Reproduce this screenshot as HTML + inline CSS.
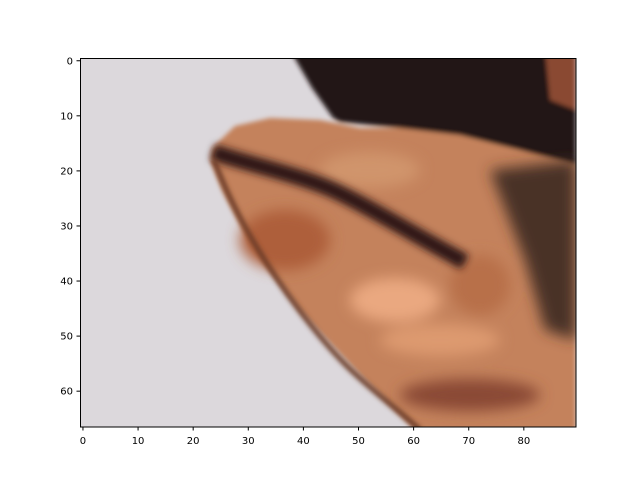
<!DOCTYPE html>
<html><head><meta charset="utf-8"><style>
html,body{margin:0;padding:0;background:#fff;width:640px;height:480px;overflow:hidden}
svg text{font-family:"DejaVu Sans","Liberation Sans",sans-serif;font-size:10px;fill:#000}
</style></head><body>
<svg width="640" height="480">
<defs>
<clipPath id="c"><rect x="80" y="58" width="496" height="369"/></clipPath>
<filter id="b" x="-30%" y="-30%" width="160%" height="160%"><feGaussianBlur stdDeviation="7"/></filter>
<filter id="b2" x="-20%" y="-20%" width="140%" height="140%"><feGaussianBlur stdDeviation="2.5"/></filter>
<filter id="b3" x="-20%" y="-20%" width="140%" height="140%"><feGaussianBlur stdDeviation="4"/></filter>
</defs>
<g clip-path="url(#c)">
<rect x="80" y="58" width="496" height="369" fill="#dcd8dc"/>
<g filter="url(#b2)">
<polygon fill="#c4825c" points="212,148 235,126 270,118 320,120 360,128 576,128 576,440 425,440 367,382 300,311 250,245 222,190 210,160"/>
<polygon fill="#221614" points="290,50 576,50 576,165 520,150 460,135 400,128 340,122 333,118 312,88"/>
<polygon fill="#8a4a30" points="545,50 576,50 576,110 550,100"/>
</g>
<g filter="url(#b)">
<polygon fill="#4a3026" points="490,170 576,160 576,340 545,330 525,260"/>
<ellipse cx="285" cy="240" rx="45" ry="30" fill="#ae5e3a"/>
<ellipse cx="370" cy="170" rx="50" ry="18" fill="#d0946c"/>
<ellipse cx="395" cy="300" rx="45" ry="22" fill="#eaa880"/>
<ellipse cx="440" cy="340" rx="60" ry="16" fill="#dd9a70"/>
<ellipse cx="470" cy="395" rx="70" ry="16" fill="#8a4a34"/>
<ellipse cx="480" cy="285" rx="30" ry="30" fill="#b87048"/>
</g>
<path d="M213,152 C240,162 300,175 333,190 S420,238 465,262" fill="none" stroke="#2e1812" stroke-width="16" filter="url(#b3)"/>
<path d="M214,160 C225,190 250,245 300,311 S370,385 420,430" fill="none" stroke="#6a3a28" stroke-width="5" filter="url(#b2)"/>
</g>
<rect x="80.5" y="58.5" width="495.5" height="368.5" fill="none" stroke="#000" stroke-width="1"/>
<g id="xt"></g>
<g id="yt"></g>
<script>
const xTicks=[0,10,20,30,40,50,60,70,80];
const yTicks=[0,10,20,30,40,50,60];
const sx=v=>80.2+(v+0.5)*5.511, sy=v=>58+(v+0.5)*5.507;
const ns="http://www.w3.org/2000/svg";
const xt=document.getElementById('xt'), yt=document.getElementById('yt');
xTicks.forEach(t=>{const x=sx(t);
const l=document.createElementNS(ns,'line');l.setAttribute('x1',x);l.setAttribute('x2',x);l.setAttribute('y1',427);l.setAttribute('y2',430.5);l.setAttribute('stroke','#000');


xt.appendChild(l);
const s=document.createElementNS(ns,'text');s.setAttribute('x',x);s.setAttribute('y',444);s.setAttribute('text-anchor','middle');s.textContent=t;


xt.appendChild(s);});
yTicks.forEach(t=>{const y=sy(t);
const l=document.createElementNS(ns,'line');l.setAttribute('x1',76.5);l.setAttribute('x2',80);l.setAttribute('y1',y);l.setAttribute('y2',y);l.setAttribute('stroke','#000');


yt.appendChild(l);
const s=document.createElementNS(ns,'text');s.setAttribute('x',73);s.setAttribute('y',y+3.5);s.setAttribute('text-anchor','end');s.textContent=t;


yt.appendChild(s);});
</script>
</svg>
</body></html>
